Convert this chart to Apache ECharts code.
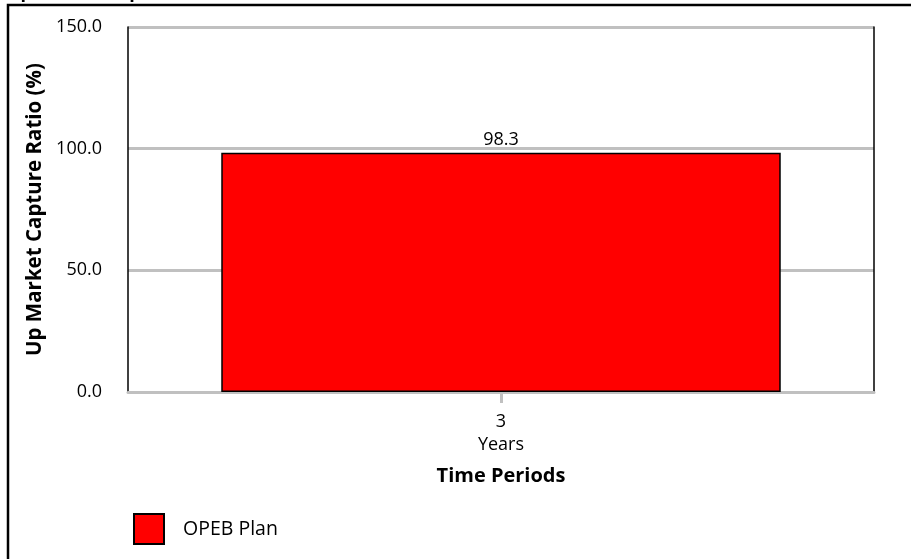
<!DOCTYPE html>
<html>
<head>
<meta charset="utf-8">
<script src="https://cdn.jsdelivr.net/npm/echarts@6/dist/echarts.min.js"></script>
<style>
  html, body { margin: 0; padding: 0; background: #fff; }
  #chart { width: 911px; height: 559px; }
</style>
</head>
<body>
<div id="chart"></div>
<script>
// Up market capture ratio by time period
const categories = ['3\nYears'];
const seriesName = 'OPEB Plan';
const values = [98.3];
const yTicks = { min: 0, max: 150, interval: 50 };

const FONT = '"Open Sans", "Noto Sans", sans-serif';
const chart = echarts.init(document.getElementById('chart'), null, { renderer: 'canvas' });

chart.setOption({
  backgroundColor: '#ffffff',
  animation: false,
  textStyle: { fontFamily: FONT, color: '#000' },
  title: {
    text: 'Up Market Capture',
    left: 2,
    top: -21,
    textStyle: { fontFamily: FONT, fontSize: 18, fontWeight: 'bold', color: '#000' }
  },
  graphic: [{
    type: 'rect',
    shape: { x: 8, y: 5, width: 960, height: 620 },
    style: { fill: null, stroke: '#000', lineWidth: 2.5 },
    z: 100
  }],
  grid: { left: 128, right: 37, top: 27, bottom: 167, containLabel: false },
  legend: {
    left: 128,
    top: 508,
    itemWidth: 30,
    itemHeight: 30,
    icon: 'rect',
    data: [seriesName],
    textStyle: { fontFamily: FONT, fontSize: 19.5, color: '#000', padding: [0, 0, 0, 14] }
  },
  xAxis: {
    type: 'category',
    data: categories,
    axisLine: { show: true, lineStyle: { color: '#c0c0c0', width: 3 } },
    axisTick: { show: true, alignWithLabel: true, length: 11, lineStyle: { color: '#c0c0c0', width: 3 } },
    axisLabel: { fontFamily: FONT, fontSize: 18, color: '#000', lineHeight: 23, margin: 18 },
    name: 'Time Periods',
    nameLocation: 'middle',
    nameGap: 74,
    nameTextStyle: { fontFamily: FONT, fontSize: 20, fontWeight: 'bold', color: '#000' }
  },
  yAxis: [{
    type: 'value',
    min: yTicks.min,
    max: yTicks.max,
    interval: yTicks.interval,
    axisLine: { show: true, lineStyle: { color: '#000', width: 1.5 } },
    axisTick: { show: false },
    axisLabel: {
      fontFamily: FONT, fontSize: 18, color: '#000', margin: 26,
      formatter: v => v.toFixed(1)
    },
    splitLine: { show: true, lineStyle: { color: '#c0c0c0', width: 3 } },
    name: 'Up Market Capture Ratio (%)',
    nameLocation: 'middle',
    nameGap: 71,
    nameRotate: 90,
    nameTextStyle: { fontFamily: FONT, fontSize: 20.5, fontWeight: 'bold', color: '#000' }
  }, {
    type: 'value',
    position: 'right',
    min: yTicks.min,
    max: yTicks.max,
    interval: yTicks.interval,
    axisLine: { show: true, lineStyle: { color: '#000', width: 1.5 } },
    axisTick: { show: false },
    axisLabel: { show: false },
    splitLine: { show: false }
  }],
  series: [{
    name: seriesName,
    type: 'bar',
    data: values,
    barCategoryGap: '25%',
    itemStyle: { color: '#ff0000', borderColor: '#000', borderWidth: 1.5 },
    label: {
      show: true,
      position: 'top',
      distance: 4,
      fontFamily: FONT,
      fontSize: 18,
      color: '#000',
      formatter: p => p.value.toFixed(1)
    }
  }]
});
</script>
</body>
</html>
